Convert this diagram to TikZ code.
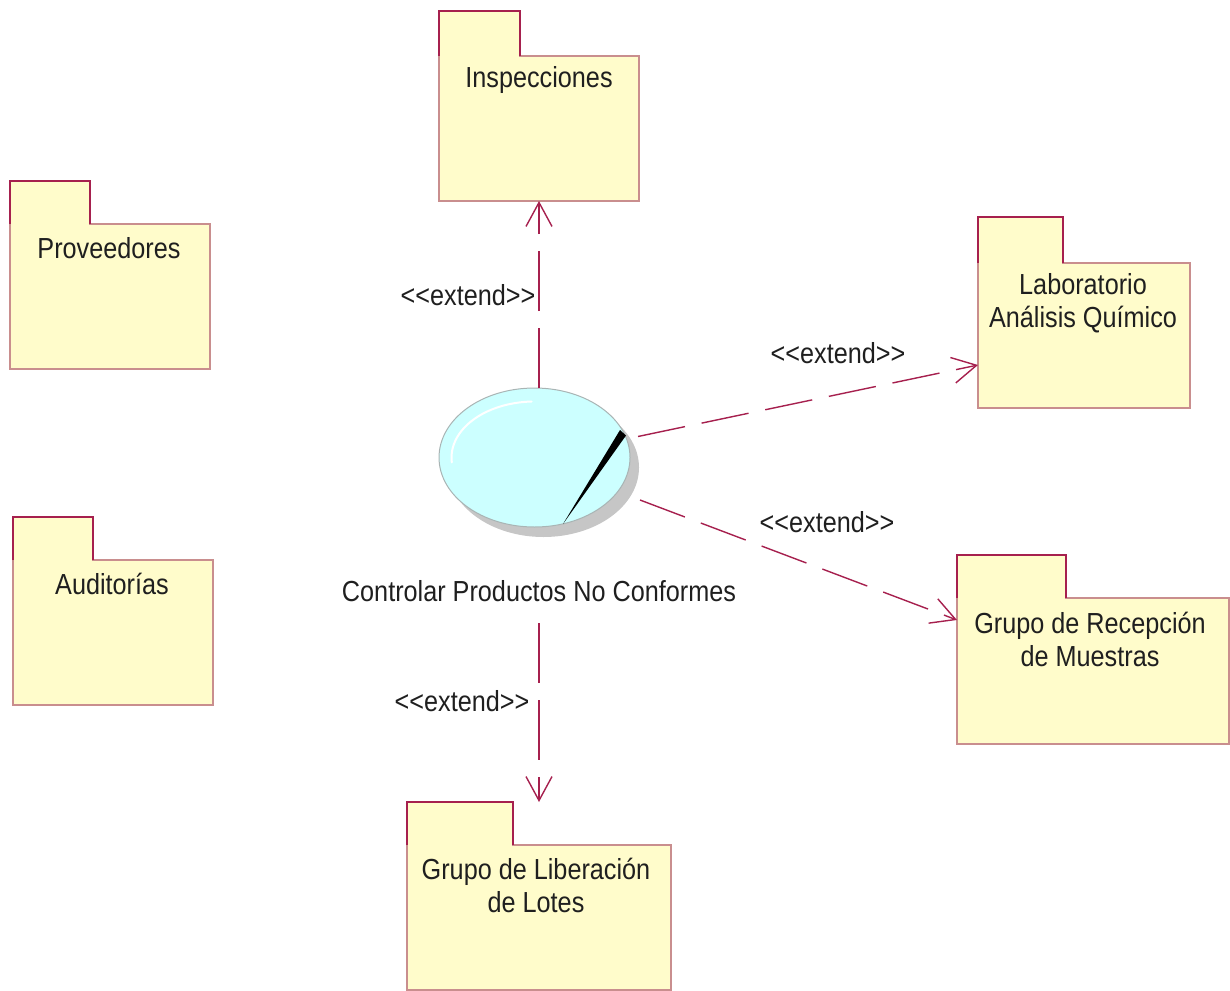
\documentclass[tikz,border=0pt]{standalone}
\usepackage{fontspec}
\setmainfont{Liberation Sans}[FakeStretch=0.87]
\usetikzlibrary{shapes.geometric,arrows.meta,calc}

\definecolor{umlred}{HTML}{A6204E}
\definecolor{pkgfill}{HTML}{FFFCCB}
\definecolor{pkgedge}{HTML}{C98E8E}
\definecolor{ucfill}{HTML}{CCFFFF}
\definecolor{ucedge}{HTML}{A9B4B4}
\definecolor{ucshadow}{HTML}{C6C6C6}

\tikzset{
  pkgbody/.style={draw=pkgedge, fill=pkgfill, line width=1.6pt, inner sep=0pt,
    outer sep=0pt, anchor=north west},
  pkgtab/.style={draw=umlred, line width=1.6pt},
  lbl/.style={inner sep=0pt, align=center, text=black!88,
    font=\fontsize{29pt}{33pt}\selectfont},
  usecase/.style={ellipse, draw=ucedge, fill=ucfill, line width=1pt,
    minimum width=191pt, minimum height=139pt, inner sep=0pt, outer sep=0pt},
  ext/.style={draw=umlred, line width=1.4pt, dash pattern=on 60pt off 17pt,
    -{Straight Barb[length=24pt,width=26pt,line width=1.4pt]}},
  extd/.style={ext, dash pattern=on 48pt off 17pt},
}

% UML package: name, left x, tab top y, tab width, tab height, body width, body height
\newcommand\umlpkg[7]{%
  \node[pkgbody, minimum width=#6pt, minimum height=#7pt] (#1) at (#2,#3+#5) {};
  \fill[pkgfill] ($(#1.north west)+(0.8,1.2)$) rectangle ++(#4-1.6,-#5-1.2);
  \draw[pkgtab] (#1.north west) -- ++(0,-#5) -- ++(#4,0) -- ++(0,#5);
}

\begin{document}
\begin{tikzpicture}[x=1pt,y=-1pt]
  \useasboundingbox (0,0) rectangle (1230,990);

  % packages
  \umlpkg{insp}{439}{11}{81}{45}{200}{145}
  \umlpkg{prov}{10}{181}{80}{43}{200}{145}
  \umlpkg{aud}{13}{517}{80}{43}{200}{145}
  \umlpkg{lab}{978}{217}{85}{46}{212}{145}
  \umlpkg{rec}{957}{555}{109}{43}{272}{146}
  \umlpkg{lib}{407}{802}{106}{43}{264}{145}

  \node[lbl] (insplbl) at (539,80) {Inspecciones};
  \node[lbl] (provlbl) at (109,248) {Proveedores};
  \node[lbl] (audlbl) at (112,584) {Auditorías};
  \node[lbl] (lablbl) at (1083,303) {Laboratorio\\Análisis Químico};
  \node[lbl] (reclbl) at (1090,639) {Grupo de Recepción\\de Muestras};
  \node[lbl] (liblbl) at (536,885) {Grupo de Liberación\\de Lotes};

  % use case
  \fill[ucshadow] (543.5,467.5) ellipse[x radius=95.5, y radius=69.5];
  \node[usecase] (uc) at (534.5,457.5) {};
  \draw[white, line width=2pt, line cap=round] (uc.center) ++(175:83 and 56)
    arc[start angle=175, end angle=268, x radius=83, y radius=56];
  \fill[black] (620,430) -- (626,435.5) -- (563,524) -- cycle;
  \node[lbl] (uclbl) at (539,591) {Controlar Productos No Conformes};

  % extend relations
  \draw[ext] (insp.south |- uc.north) -- (insp.south);
  \draw[extd] ($(uc.east)+(8,-21)$) -- ($(lab.south west)+(0,-43)$);
  \draw[extd] ($(uc.east)+(10,42.5)$) -- ($(rec.north west)+(0,22)$);
  \draw[ext] ($(lib.north)+(0,-222)$) -- ($(lib.north)+(0,-43)$);

  \node[lbl] (e1) at (468,295) {{<}{<}extend{>}{>}};
  \node[lbl] (e2) at (838,353) {{<}{<}extend{>}{>}};
  \node[lbl] (e3) at (827,522) {{<}{<}extend{>}{>}};
  \node[lbl] (e4) at (462,701) {{<}{<}extend{>}{>}};
\end{tikzpicture}
\end{document}
